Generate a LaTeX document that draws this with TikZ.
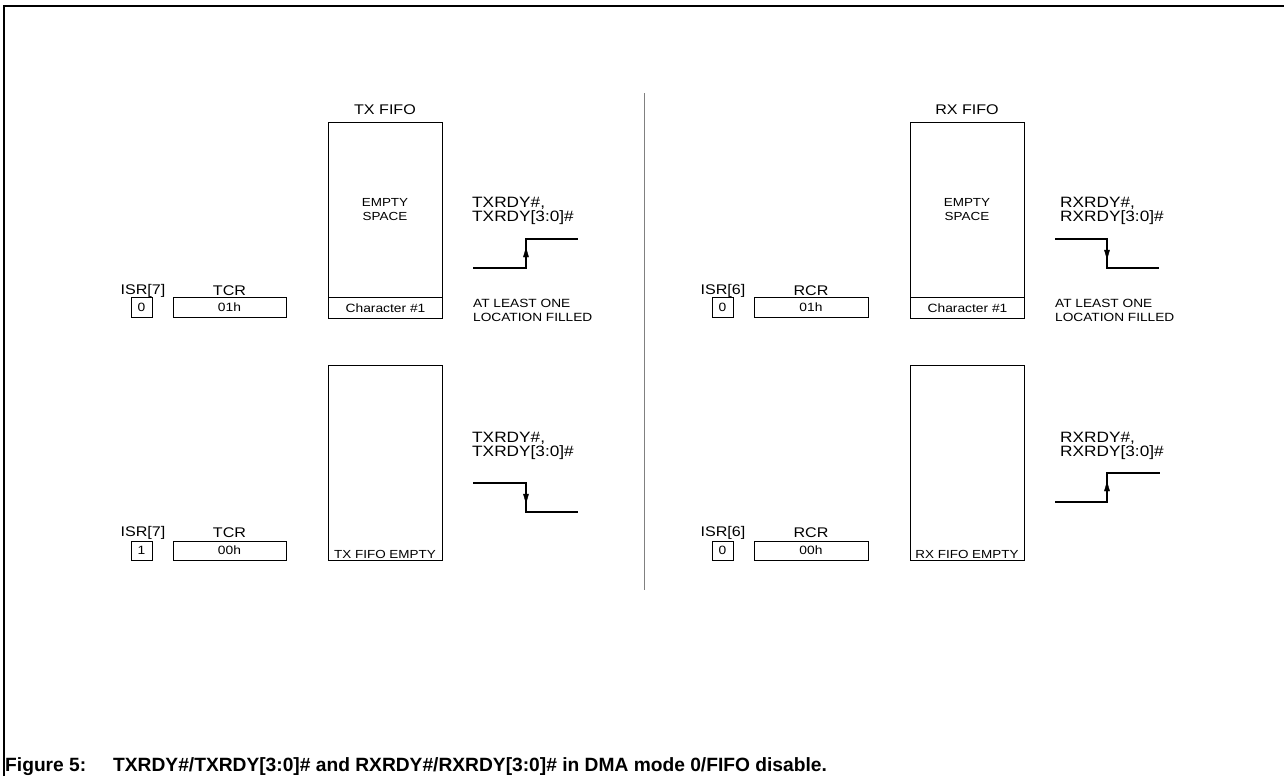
\documentclass[tikz,border=0pt]{standalone}
\usepackage{fontspec}
\setmainfont{Liberation Sans}[FakeStretch=1.15]
\newfontfamily\capfont{Liberation Sans}
\tikzset{
  lbl/.style={inner sep=0, font=\fontsize{14}{14}\selectfont},
  sig/.style={inner sep=0, align=left, anchor=west, font=\fontsize{15}{14}\selectfont},
  note/.style={inner sep=0, align=left, anchor=west, font=\fontsize{11.9}{14}\selectfont},
  mid/.style={inner sep=0, align=center, font=\fontsize{11.7}{14}\selectfont},
  reg/.style={draw, line width=1, inner sep=0, font=\fontsize{12}{12}\selectfont},
  fifo/.style={draw, line width=1, minimum width=114, anchor=north west, inner sep=0},
  wave/.style={line width=1.1},
  headfill/.style={fill=black, draw=black, line width=0.4, line join=miter},
  captext/.style={inner sep=0, anchor=base west, font=\capfont\bfseries\fontsize{19.2}{22}\selectfont}
}
\begin{document}
\begin{tikzpicture}[x=1pt,y=-1pt]
\useasboundingbox (0,0) rectangle (1284,776);
% frame
\draw[line width=2] (3.5,776) -- (3.5,6.5) -- (1284,6.5);
% divider
\draw[line width=1.2, gray] (644.5,93) -- (644.5,590);

% ===== TX top =====
\node[lbl] (txt) at (385,110) {TX FIFO};
\node[fifo, minimum height=196] (txf1) at (328,122) {};
\node[reg, minimum width=114, minimum height=21, anchor=south west] (txc) at (txf1.south west) {Character \#1};
\node[mid] (txe) at (385,210) {EMPTY\\SPACE};
\node[sig] (txs1) at (472,211) {TXRDY\#,\\TXRDY[3:0]\#};
\coordinate (ta1) at (473,268); \coordinate (ta2) at (526,268);
\coordinate (ta3) at (526,239); \coordinate (ta4) at (578,239);
\coordinate (ta5) at (526,248);
\draw[wave] (ta1) -- (ta2) -- (ta3) -- (ta4);
\filldraw[headfill] (ta5) -- ++(-2.6,9) -- ++(5.2,0) -- cycle;
\node[note] (txn) at (473,310) {AT LEAST ONE\\LOCATION FILLED};
\node[lbl] (isr1) at (143,291) {ISR[7]};
\node[reg, minimum width=21, minimum height=20] (isrb1) at (141.5,307) {0};
\node[lbl] (tcr1) at (229.5,291) {TCR};
\node[reg, minimum width=113, minimum height=20] (tcrb1) at (229.5,307) {01h};

% ===== TX bottom =====
\node[fifo, minimum height=195] (txf2) at (328,365) {};
\node[mid, anchor=south] (txemp) at (385,558.5) {TX FIFO EMPTY};
\node[sig] (txs2) at (472,446) {TXRDY\#,\\TXRDY[3:0]\#};
\coordinate (tb1) at (473,483); \coordinate (tb2) at (526,483);
\coordinate (tb3) at (526,512); \coordinate (tb4) at (578,512);
\coordinate (tb5) at (526,503);
\draw[wave] (tb1) -- (tb2) -- (tb3) -- (tb4);
\filldraw[headfill] (tb5) -- ++(-2.6,-9) -- ++(5.2,0) -- cycle;
\node[lbl] (isr2) at (143,533) {ISR[7]};
\node[reg, minimum width=21, minimum height=19] (isrb2) at (141.5,550.5) {1};
\node[lbl] (tcr2) at (229.5,533) {TCR};
\node[reg, minimum width=113, minimum height=19] (tcrb2) at (229.5,550.5) {00h};

% ===== RX top =====
\node[lbl] (rxt) at (967,110) {RX FIFO};
\node[fifo, minimum height=196] (rxf1) at (910,122) {};
\node[reg, minimum width=114, minimum height=21, anchor=south west] (rxc) at (rxf1.south west) {Character \#1};
\node[mid] (rxe) at (967,210) {EMPTY\\SPACE};
\node[sig] (rxs1) at (1060,211) {RXRDY\#,\\RXRDY[3:0]\#};
\coordinate (ra1) at (1055,239); \coordinate (ra2) at (1107,239);
\coordinate (ra3) at (1107,268); \coordinate (ra4) at (1159,268);
\coordinate (ra5) at (1107,259);
\draw[wave] (ra1) -- (ra2) -- (ra3) -- (ra4);
\filldraw[headfill] (ra5) -- ++(-2.6,-9) -- ++(5.2,0) -- cycle;
\node[note] (rxn) at (1055,310) {AT LEAST ONE\\LOCATION FILLED};
\node[lbl] (isr3) at (723,291) {ISR[6]};
\node[reg, minimum width=21, minimum height=20] (isrb3) at (722.5,307) {0};
\node[lbl] (rcr1) at (811,291) {RCR};
\node[reg, minimum width=114, minimum height=20] (rcrb1) at (811,307) {01h};

% ===== RX bottom =====
\node[fifo, minimum height=195] (rxf2) at (910,365) {};
\node[mid, anchor=south] (rxemp) at (967,558.5) {RX FIFO EMPTY};
\node[sig] (rxs2) at (1060,446) {RXRDY\#,\\RXRDY[3:0]\#};
\coordinate (rb1) at (1055,502); \coordinate (rb2) at (1107,502);
\coordinate (rb3) at (1107,473); \coordinate (rb4) at (1160,473);
\coordinate (rb5) at (1107,482);
\draw[wave] (rb1) -- (rb2) -- (rb3) -- (rb4);
\filldraw[headfill] (rb5) -- ++(-2.6,9) -- ++(5.2,0) -- cycle;
\node[lbl] (isr4) at (723,533) {ISR[6]};
\node[reg, minimum width=21, minimum height=19] (isrb4) at (722.5,550.5) {0};
\node[lbl] (rcr2) at (811,533) {RCR};
\node[reg, minimum width=114, minimum height=19] (rcrb2) at (811,550.5) {00h};

% ===== caption =====
\node[captext] (fig) at (5,771) {Figure 5:};
\node[captext] (cap) at (113,771) {TXRDY\#/TXRDY[3:0]\# and RXRDY\#/RXRDY[3:0]\# in DMA mode 0/FIFO disable.};
\end{tikzpicture}
\end{document}
